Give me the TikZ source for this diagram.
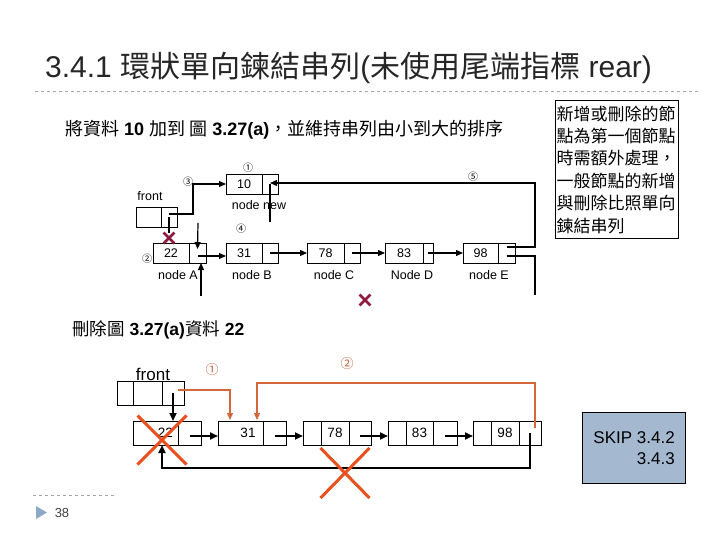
\documentclass[tikz,border=0pt]{standalone}
\usepackage{fontspec}
\setmainfont{Liberation Sans}
\newfontfamily\cjk{Noto Sans CJK TC}
\usetikzlibrary{arrows.meta,positioning,shapes.misc}
\definecolor{rulegray}{HTML}{A6A6A6}
\definecolor{titlegray}{HTML}{262626}
\definecolor{cutred}{HTML}{8E1B3E}
\definecolor{delorange}{HTML}{E8501E}
\definecolor{linkorange}{HTML}{D2693C}
\definecolor{numorange}{HTML}{C0603A}
\definecolor{skipblue}{HTML}{A4B8CF}
\definecolor{bulletblue}{HTML}{8DA9C8}
\tikzset{
  >={Triangle[length=7pt,width=6pt]},
  ucell/.style={draw, line width=0.8pt, minimum height=20pt, inner sep=0pt, outer sep=0pt, font=\fontsize{12.5}{14}\selectfont},
  lcell/.style={draw, line width=1pt, minimum height=24pt, inner sep=0pt, outer sep=0pt, font=\fontsize{13.5}{16}\selectfont},
  ulbl/.style={font=\fontsize{12.5}{14}\selectfont, inner sep=0pt},
  unum/.style={font=\cjk\fontsize{10}{10}\selectfont, inner sep=0pt},
  lnum/.style={font=\cjk\fontsize{13}{13}\selectfont, text=numorange, inner sep=0pt},
  ulink/.style={->, line width=1.2pt},
  uline/.style={line width=1.2pt},
  llink/.style={-{Triangle[length=8pt,width=7pt]}, line width=2.2pt},
  olink/.style={->, draw=linkorange, line width=1.2pt},
  cut/.style={cross out, draw=cutred, line width=2.8pt, minimum size=8pt, inner sep=0pt},
  delx/.style={cross out, draw=delorange, line width=3pt, inner sep=0pt},
}
\begin{document}
\begin{tikzpicture}[x=1pt, y=-1pt]
  \useasboundingbox (0,0) rectangle (720,540);

  % heading
  \node[anchor=west, text=titlegray, inner sep=0pt, font=\fontsize{30}{36}\selectfont] (title) at (45,68)
    {3.4.1 {\cjk 環狀單向鍊結串列}({\cjk 未使用尾端指標} rear)};
  \draw[rulegray, dashed, line width=1pt] (35,92) -- (700,92);

  \node[anchor=west, inner sep=0pt, font=\fontsize{18}{22}\selectfont] (addtxt) at (65,130)
    {{\cjk 將資料} \textbf{10} {\cjk 加到 圖} \textbf{3.27(a)}{\cjk ，並維持串列由小到大的排序}};
  \node[draw, line width=1.2pt, anchor=north west, text width=121pt, minimum height=138pt,
        inner xsep=1pt, inner ysep=2pt, align=left, font=\cjk\fontsize{17}{22.4}\selectfont] (note) at (555,100)
    {新增或刪除的節\\點為第一個節點\\時需額外處理，\\一般節點的新增\\與刪除比照單向\\鍊結串列};

  % insert: nodes
  \node[ulbl] (ufront) at (150,196) {front};
  \node[ucell, minimum width=25pt] (fa) at (148.5,217) {};
  \node[ucell, minimum width=16pt, right=0pt of fa] (fp) {};
  \node[ucell, minimum width=36pt] (nv) at (244,184) {10};
  \node[ucell, minimum width=16pt, right=0pt of nv] (np) {};
  \node[ucell, minimum width=36pt] (a) at (171,253) {22};
  \node[ucell, minimum width=17pt, right=0pt of a] (ap) {};
  \node[ucell, minimum width=36pt] (b) at (244,253) {31};
  \node[ucell, minimum width=16pt, right=0pt of b] (bp) {};
  \node[ucell, minimum width=37pt] (c) at (325.5,253) {78};
  \node[ucell, minimum width=16pt, right=0pt of c] (cp) {};
  \node[ucell, minimum width=38pt] (d) at (404,253) {83};
  \node[ucell, minimum width=10pt, right=0pt of d] (dp) {};
  \node[ucell, minimum width=35pt] (e) at (480.5,253) {98};
  \node[ucell, minimum width=17pt, right=0pt of e] (ep) {};

  \node[ulbl] (lnew) at (259,205) {node new};
  \node[ulbl] (la) at (178,275) {node A};
  \node[ulbl] (lb) at (252,275) {node B};
  \node[ulbl] (lc) at (334,275) {node C};
  \node[ulbl] (ld) at (412,275) {Node D};
  \node[ulbl] (le) at (489,275) {node E};

  \node[unum] (s1) at (248,168) {①};
  \node[unum] (s2) at (147,259) {②};
  \node[unum] (s3) at (188,182) {③};
  \node[unum] (s4) at (241,229) {④};
  \node[unum] (s5) at (473,177) {⑤};

  \node[cut] (cutf) at (169,238) {};
  \node[cut] (cute) at (365,300) {};

  \coordinate (k3) at (193,184);
  \coordinate (k4a) at (270,222);
  \coordinate (k4b) at (198,223);
  \coordinate (k5) at (535,183);
  \coordinate (k6) at (535,295);
  \coordinate (k6a) at (201,296);

  % insert: links
  \draw[ulink] ([yshift=3pt]fp.center) -- ([yshift=3pt]fp.center -| k3) -- (k3) -- (nv.west);
  \draw[uline] (fp.center) -- (cutf);
  \draw[uline] (np.center) -- (k4a);
  \draw[ulink] (k4b) -- ([yshift=4pt]ap.center);
  \draw[ulink] ([yshift=-3pt]ap.center) -- ([yshift=-3pt]b.west);
  \draw[ulink] (k6a) -- (k6a |- ap.south);
  \draw[ulink] (bp.center) -- (c.west);
  \draw[ulink] (cp.center) -- (d.west);
  \draw[ulink] (dp.center) -- (e.west);
  \draw[ulink] ([yshift=6pt]ep.center) -| (k5) -- (k5 -| np.center);
  \draw[uline] ([yshift=-3pt]ep.center) -| (k6);

  % delete: nodes
  \node[anchor=west, inner sep=0pt, font=\fontsize{17.5}{21}\selectfont] (deltxt) at (72,330)
    {{\cjk 刪除圖} \textbf{3.27(a)}{\cjk 資料} \textbf{22}};
  \node[font=\fontsize{17}{20}\selectfont, inner sep=0pt] (lfront) at (153,374) {front};
  \node[lcell, minimum width=16pt] (lf1) at (125,393) {};
  \node[lcell, minimum width=29pt, right=0pt of lf1] (lf2) {};
  \node[lcell, minimum width=22pt, right=0pt of lf2] (lf3) {};

  \node[lcell, minimum width=45pt] (l22a) at (155.5,433) {\hspace*{20pt}22};
  \node[lcell, minimum width=23pt, right=0pt of l22a] (l22b) {};
  \node[lcell, minimum width=45pt] (l31a) at (240.5,433) {\hspace*{15pt}31};
  \node[lcell, minimum width=23pt, right=0pt of l31a] (l31b) {};
  \node[lcell, minimum width=18pt] (l78a) at (312,433) {};
  \node[lcell, minimum width=28pt, right=0pt of l78a] (l78b) {78};
  \node[lcell, minimum width=22pt, right=0pt of l78b] (l78c) {};
  \node[lcell, minimum width=18pt] (l83a) at (397,433) {};
  \node[lcell, minimum width=27pt, right=0pt of l83a] (l83b) {83};
  \node[lcell, minimum width=24pt, right=0pt of l83b] (l83c) {};
  \node[lcell, minimum width=18pt] (l98a) at (482,433) {};
  \node[lcell, minimum width=28pt, right=0pt of l98a] (l98b) {98};
  \node[lcell, minimum width=22pt, right=0pt of l98b] (l98c) {};

  \node[lnum] (o1) at (212,370) {①};
  \node[lnum] (o2) at (347,364) {②};

  \coordinate (k1) at (230,420);
  \coordinate (k2) at (257,420);
  \coordinate (top2) at (535,383);
  \coordinate (k7) at (162,468);

  % delete: links
  \draw[llink] (lf3.center) -- (lf3.center |- l22a.north);
  \draw[olink] ([xshift=5pt,yshift=3pt]lf3.center) -| (k1);
  \draw[olink] ([xshift=5pt,yshift=5pt]l98c.center) -- (top2) -| (k2);
  \draw[llink] ([yshift=-3pt]l22b.center) -- ([yshift=-3pt]l31a.west);
  \draw[llink] ([yshift=-3pt]l31b.center) -- ([yshift=-3pt]l78a.west);
  \draw[llink] ([yshift=-3pt]l78c.center) -- ([yshift=-3pt]l83a.west);
  \draw[llink] ([yshift=-3pt]l83c.center) -- ([yshift=-3pt]l98a.west);
  \draw[llink] (l98c.center) |- (k7) -- (k7 |- l22a.south);

  \node[delx, minimum width=46pt, minimum height=46pt] (x22) at (162,440) {};
  \node[delx, minimum width=46pt, minimum height=47pt] (x78) at (345,473) {};

  \node[draw, line width=1.2pt, fill=skipblue, anchor=north west, minimum width=103pt, minimum height=71pt,
        align=right, font=\fontsize{17}{21}\selectfont] (skip) at (582,412) {SKIP 3.4.2\\3.4.3};

  % footer
  \draw[rulegray, dashed, line width=1pt] (33,495) -- (115,495);
  \fill[bulletblue] (36,506) -- (47,512.5) -- (36,519) -- cycle;
  \node[font=\fontsize{13}{15}\selectfont, text=black!75, inner sep=0pt] (pg) at (62,513) {38};
\end{tikzpicture}
\end{document}
